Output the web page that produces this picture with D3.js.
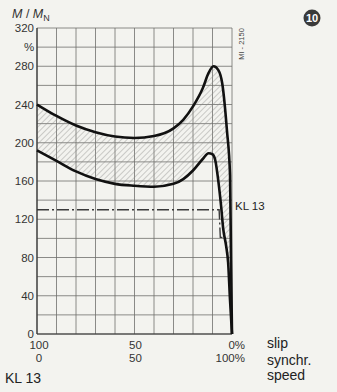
<!DOCTYPE html>
<html>
<head>
<meta charset="utf-8">
<script src="https://cdn.jsdelivr.net/npm/d3@7"></script>
<style>
  html, body { margin: 0; padding: 0; background: #f3f3ef; }
  svg { display: block; font-family: "Liberation Sans", Arial, sans-serif; }
</style>
</head>
<body>
<svg id="chart" width="337" height="392"></svg>
<script>
// Torque ratio M/MN (%) against slip (%) — upper and lower bound of the band
const upperSlip   = [100, 90, 80, 70, 60, 50, 40, 30, 25, 20, 15, 12, 9.5, 7, 5, 2.6, 1.0, 0.5, 0];
const upperTorque = [240, 228, 218, 211, 206.5, 205, 207, 215, 224, 238, 257, 273, 280, 276, 262, 213, 166, 77, 0];
const lowerSlip   = [100, 90, 80, 70, 60, 50, 40, 30, 25, 20, 15, 12, 10, 8.5, 7.2, 5.6, 4.5, 3, 2, 1, 0];
const lowerTorque = [192, 181, 170, 162, 157, 155, 154, 157, 162, 171, 183, 189, 188, 181, 163, 134, 110, 92, 75, 35, 0];
// Load torque characteristic (dash-dot)
const loadSlip    = [100, 6.6, 6.0, 3.6];
const loadTorque  = [130, 130, 101, 101];

const yTicks = [0, 40, 80, 120, 160, 200, 240, 280, 320];
const xTicks = [100, 50, 0];
const slipLabels  = ["100", "50", "0%"];
const speedLabels = ["0", "50", "100%"];

const svg = d3.select("#chart");
const m = { left: 37, right: 232, top: 28, bottom: 334 };

const x = d3.scaleLinear().domain([100, 0]).range([m.left, m.right]);
const y = d3.scaleLinear().domain([0, 320]).range([m.bottom, m.top]);

// hatch pattern for the band between the curves
const defs = svg.append("defs");
const pat = defs.append("pattern")
  .attr("id", "hatch").attr("patternUnits", "userSpaceOnUse")
  .attr("width", 4).attr("height", 4)
  .attr("patternTransform", "rotate(45)");
pat.append("line").attr("x1", 0).attr("y1", 0).attr("x2", 0).attr("y2", 4)
  .attr("stroke", "#8a8a86").attr("stroke-width", 0.8);

// grid
const grid = svg.append("g");
grid.selectAll("line.v").data(d3.range(0, 101, 10)).join("line")
  .attr("x1", d => x(d)).attr("x2", d => x(d))
  .attr("y1", m.top).attr("y2", m.bottom)
  .attr("stroke", "#6f6f6c").attr("stroke-width", 0.8);
grid.selectAll("line.h").data(d3.range(0, 321, 20)).join("line")
  .attr("x1", m.left).attr("x2", m.right)
  .attr("y1", d => y(d)).attr("y2", d => y(d))
  .attr("stroke", "#6f6f6c").attr("stroke-width", 0.8);

const upper = upperSlip.map((s, i) => [x(s), y(upperTorque[i])]);
const lower = lowerSlip.map((s, i) => [x(s), y(lowerTorque[i])]);
const line = d3.line().curve(d3.curveMonotoneX);

// hatched band: upper bound out, lower bound back
svg.append("path")
  .attr("d", line(upper) + "L" + line(lower.slice().reverse()).slice(1) + "Z")
  .attr("fill", "url(#hatch)").attr("stroke", "none");

// load line
svg.append("path")
  .attr("d", d3.line()(loadSlip.map((s, i) => [x(s), y(loadTorque[i])])))
  .attr("fill", "none").attr("stroke", "#3a3a3a").attr("stroke-width", 1.4)
  .attr("stroke-dasharray", "12,3,2,3");

// axes frame
svg.append("line").attr("x1", m.left).attr("x2", m.left).attr("y1", m.top).attr("y2", m.bottom)
  .attr("stroke", "#333").attr("stroke-width", 1.2);
svg.append("line").attr("x1", m.left).attr("x2", m.right).attr("y1", m.bottom).attr("y2", m.bottom)
  .attr("stroke", "#333").attr("stroke-width", 1.2);

// curves
[upper, lower].forEach(pts => {
  svg.append("path").attr("d", line(pts))
    .attr("fill", "none").attr("stroke", "#111").attr("stroke-width", 2.6)
    .attr("stroke-linejoin", "round");
});

// y tick labels
svg.append("g").selectAll("text").data(yTicks).join("text")
  .attr("x", 34).attr("y", d => y(d) + 4)
  .attr("text-anchor", "end").attr("font-size", 11.5).attr("fill", "#333")
  .text(d => d);
svg.append("text").attr("x", 29).attr("y", y(300) + 4)
  .attr("text-anchor", "middle").attr("font-size", 11.5).attr("fill", "#333").text("%");

// axis title
const t = svg.append("text").attr("x", 12).attr("y", 18).attr("font-size", 12.5).attr("fill", "#333");
t.append("tspan").attr("font-style", "italic").text("M");
t.append("tspan").text(" / ");
t.append("tspan").attr("font-style", "italic").text("M");
t.append("tspan").attr("font-size", 9).attr("dy", 3).text("N");

// x labels
const xl = svg.append("g").attr("font-size", 11.5).attr("fill", "#333");
xTicks.forEach((v, i) => {
  const anchor = i === 2 ? "end" : "middle";
  const px = i === 0 ? x(v) + 2 : i === 2 ? x(v) + 13 : x(v) + 1;
  xl.append("text").attr("x", px).attr("y", 349).attr("text-anchor", anchor).text(slipLabels[i]);
  xl.append("text").attr("x", px).attr("y", 362).attr("text-anchor", anchor).text(speedLabels[i]);
});

const side = svg.append("g").attr("font-size", 14).attr("fill", "#222");
side.append("text").attr("x", 267).attr("y", 348).text("slip");
side.append("text").attr("x", 267).attr("y", 365).text("synchr.");
side.append("text").attr("x", 267).attr("y", 380).text("speed");

svg.append("text").attr("x", 5).attr("y", 383).attr("font-size", 14).attr("fill", "#222").text("KL 13");
svg.append("text").attr("x", 235).attr("y", 210).attr("font-size", 11.5).attr("fill", "#222").text("KL 13");

svg.append("text").attr("transform", "translate(244,44) rotate(-90)")
  .attr("text-anchor", "middle").attr("font-size", 7.5).attr("fill", "#444").text("MI - 2150");

// figure number badge
svg.append("circle").attr("cx", 312).attr("cy", 18).attr("r", 8.5).attr("fill", "#3a3a3a");
svg.append("text").attr("x", 312).attr("y", 22).attr("text-anchor", "middle")
  .attr("font-size", 11).attr("font-weight", "bold").attr("fill", "#fff").text("10");
</script>
</body>
</html>
